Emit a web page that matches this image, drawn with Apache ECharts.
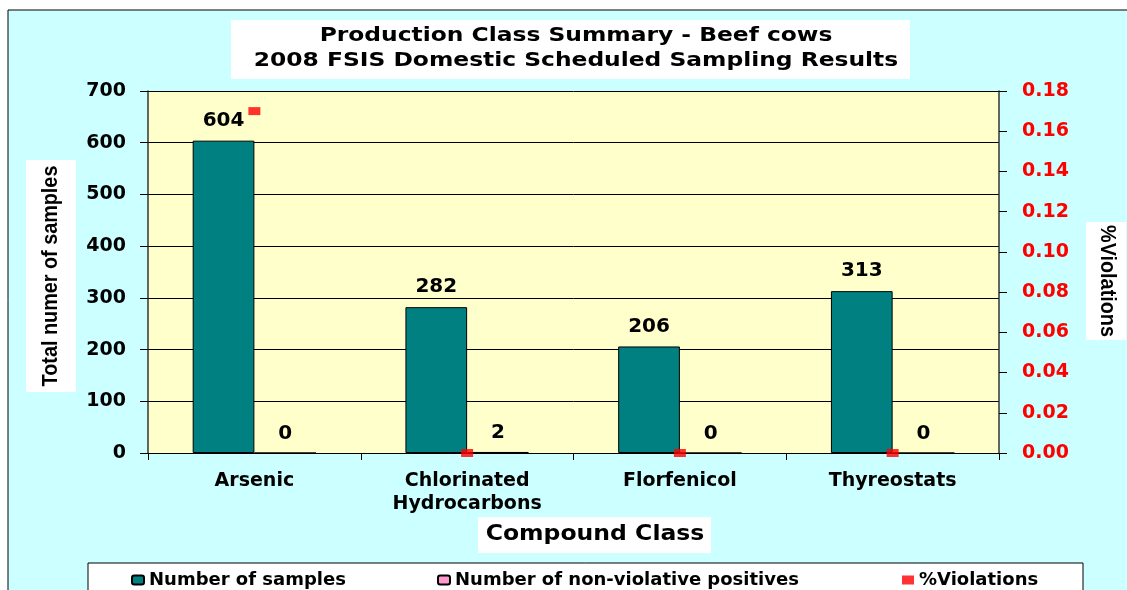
<!DOCTYPE html>
<html>
<head>
<meta charset="utf-8">
<title>Production Class Summary - Beef cows</title>
<script src="https://cdn.jsdelivr.net/npm/echarts@6/dist/echarts.min.js"></script>
<style>
    html, body { margin: 0; padding: 0; background: #fff; }
    #chart { width: 1127px; height: 590px; }
</style>
</head>
<body>
<div id="chart"></div>
<script>
    // values
    const categories = ['Arsenic', 'Chlorinated\nHydrocarbons', 'Florfenicol', 'Thyreostats'];
    const sampleCounts = [604, 282, 206, 313];
    const nonViolativePositives = [0, 2, 0, 0];
    const violationPct = [0.17, 0, 0, 0];
    const leftTicks = { min: 0, max: 700, interval: 100 };
    const rightTicks = { min: 0, max: 0.18, interval: 0.02 };

    const font = '"DejaVu Sans", Verdana, sans-serif';
    const narrow = '"Liberation Sans", Arial, sans-serif';

    const chart = echarts.init(document.getElementById('chart'));

    const legendText = { fontSize: 18, fontWeight: 'bold', color: '#000', fontFamily: font };

    const option = {
        animation: false,
        textStyle: { fontFamily: font },
        graphic: [
            {
                type: 'rect', z: -10, silent: true,
                shape: { x: 8, y: 10, width: 1130, height: 600 },
                style: { fill: '#ccffff', stroke: '#000', lineWidth: 1 }
            },
            {
                type: 'rect', z: -5, silent: true,
                shape: { x: 231, y: 20, width: 679, height: 59 },
                style: { fill: '#fff' }
            },
            {
                // chart title, stretched a little to match the wide original lettering
                type: 'group', x: 576, y: 0, scaleX: 1.23,
                children: [
                    { type: 'text', style: { text: 'Production Class Summary - Beef cows', x: 0, y: 36,
                        align: 'center', verticalAlign: 'middle', font: 'bold 19px ' + font, fill: '#000' } },
                    { type: 'text', style: { text: '2008 FSIS Domestic Scheduled Sampling Results', x: 0, y: 61,
                        align: 'center', verticalAlign: 'middle', font: 'bold 19px ' + font, fill: '#000' } }
                ]
            },
            {
                // left axis name
                type: 'group', x: 51, y: 276, rotation: Math.PI / 2,
                children: [
                    { type: 'rect', shape: { x: -116, y: -25, width: 232, height: 50 }, style: { fill: '#fff' } },
                    {
                        type: 'text', scaleX: 0.9,
                        style: { text: 'Total numer of samples', x: 0, y: 0, align: 'center', verticalAlign: 'middle',
                            font: 'bold 22px ' + narrow, fill: '#000' }
                    }
                ]
            },
            {
                // right axis name
                type: 'group', x: 1107, y: 281, rotation: -Math.PI / 2,
                children: [
                    { type: 'rect', shape: { x: -59, y: -19, width: 118, height: 40 }, style: { fill: '#fff' } },
                    {
                        type: 'text', scaleX: 0.9,
                        style: { text: '%Violations', x: 0, y: 0, align: 'center', verticalAlign: 'middle',
                            font: 'bold 22px ' + narrow, fill: '#000' }
                    }
                ]
            },
            {
                type: 'rect', silent: true,
                shape: { x: 478, y: 517, width: 233, height: 36 },
                style: { fill: '#fff' }
            },
            {
                type: 'text', x: 595, y: 535, scaleX: 1.12,
                style: { text: 'Compound Class', x: 0, y: 0, align: 'center', verticalAlign: 'middle',
                    font: 'bold 21px ' + font, fill: '#000' }
            },
            {
                type: 'rect', silent: true,
                shape: { x: 88, y: 563, width: 995, height: 40 },
                style: { fill: '#fff', stroke: '#000', lineWidth: 1 }
            }
        ],
        legend: [
            {
                data: ['Number of samples'], left: 126, top: 566,
                itemWidth: 12, itemHeight: 9, textStyle: legendText
            },
            {
                data: ['Number of non-violative positives'], left: 432, top: 566,
                itemWidth: 12, itemHeight: 9, textStyle: legendText
            },
            {
                data: ['%Violations'], left: 897, top: 566,
                itemWidth: 12, itemHeight: 9, textStyle: legendText
            }
        ],
        grid: {
            left: 148, right: 128, top: 91, bottom: 137,
            show: true, backgroundColor: '#ffffcc', borderWidth: 0
        },
        xAxis: {
            type: 'category',
            data: categories,
            axisLine: { lineStyle: { color: '#000', width: 1 } },
            axisTick: { show: true, length: 7, lineStyle: { color: '#000' } },
            axisLabel: { color: '#000', fontSize: 19, fontWeight: 'bold', lineHeight: 23, margin: 17, fontFamily: font }
        },
        yAxis: [
            {
                type: 'value',
                min: leftTicks.min, max: leftTicks.max, interval: leftTicks.interval,
                axisLine: { show: true, lineStyle: { color: '#333', width: 1.5 } },
                axisTick: { show: true, length: 8, lineStyle: { color: '#000' } },
                axisLabel: { color: '#000', fontSize: 19, fontWeight: 'bold', margin: 22, fontFamily: font },
                splitLine: { show: true, lineStyle: { color: '#000', width: 1 } }
            },
            {
                type: 'value',
                min: rightTicks.min, max: rightTicks.max, interval: rightTicks.interval,
                axisLine: { show: true, lineStyle: { color: '#333', width: 1.5 } },
                axisTick: { show: true, length: 8, lineStyle: { color: '#000' } },
                axisLabel: {
                    color: '#ff0000', fontSize: 19, fontWeight: 'bold', margin: 23, fontFamily: font,
                    formatter: v => v.toFixed(2)
                },
                splitLine: { show: false }
            }
        ],
        series: [
            {
                name: 'Number of samples',
                type: 'bar',
                data: sampleCounts,
                barGap: 0,
                barCategoryGap: '42%',
                itemStyle: { color: '#008080', borderColor: '#000', borderWidth: 1 },
                label: { show: true, position: 'top', distance: 10, color: '#000', fontSize: 20, fontWeight: 'bold', fontFamily: font }
            },
            {
                name: 'Number of non-violative positives',
                type: 'bar',
                data: nonViolativePositives,
                itemStyle: { color: '#ff99cc', borderColor: '#000', borderWidth: 1 },
                label: { show: true, position: 'top', distance: 9, color: '#000', fontSize: 20, fontWeight: 'bold', fontFamily: font }
            },
            {
                name: '%Violations',
                type: 'scatter',
                yAxisIndex: 1,
                data: violationPct,
                symbol: 'rect',
                symbolSize: [12, 8],
                itemStyle: { color: '#ff0000' },
                z: 5
            }
        ]
    };

    chart.setOption(option);
</script>
</body>
</html>
